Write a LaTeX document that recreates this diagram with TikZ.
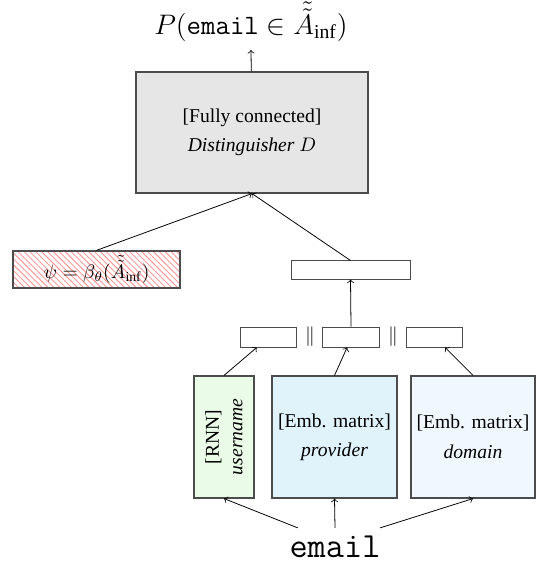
\documentclass[tikz,border=0pt]{standalone}
\usepackage{amsmath,amssymb}
\usepackage{fontspec}
\setmainfont{Liberation Serif}
\usetikzlibrary{patterns}
\definecolor{discgray}{HTML}{E6E6E6}
\definecolor{rnngreen}{HTML}{EAFCE8}
\definecolor{provblue}{HTML}{E0F2FA}
\definecolor{domblue}{HTML}{F0F7FE}

\begin{document}
\begin{tikzpicture}[x=0.51pt,y=-0.51pt,
  box/.style={draw=black!70, rectangle, line width=0.6pt, inner sep=0pt},
  vec/.style={draw=black!70, rectangle, line width=0.5pt, minimum width=28.6pt, minimum height=10.2pt, inner sep=0pt}]
\useasboundingbox (0,0) rectangle (537,563);

% Output probability
\node[inner sep=1pt] (prob) at (251,22) {\fontsize{14.3}{16}\selectfont $P(\texttt{email}\in\tilde{\tilde{A}}_{\text{inf}})$};

% Distinguisher
\node[box, fill=discgray, minimum width=118.3pt, minimum height=61.7pt, align=center] (disc) at (252,132.5) {[Fully connected]\\[3pt]\textit{Distinguisher $D$}};
\draw[->] (disc) -- ([yshift=-3pt]prob.south);

% Attribute encoding
\node[box, pattern=north west lines, pattern color=red!45, minimum width=85.2pt, minimum height=18.9pt] (psi) at (96.5,269.5) {$\psi = \beta_\theta(\tilde{\tilde{A}}_{\text{inf}})$};
\draw[->] (psi.north) -- (disc.south);

% Concatenated vector
\node[vec, minimum width=60.7pt, minimum height=9.2pt] (concat) at (350.5,270) {};
\draw[->] (concat.north) -- (disc.south);

% Part vectors
\node[vec] (vuser) at (268.5,337) {};
\node (sep1) at (310,337) {$\|$};
\node[vec] (vprov) at (351,337) {};
\node (sep2) at (393,337) {$\|$};
\node[vec] (vdom) at (434.5,337) {};
\draw[->] (vprov.north) -- (concat.south);

% Encoders
\node[box, fill=rnngreen, minimum width=30.6pt, minimum height=62.2pt] (rnn) at (224,437) {};
\node[rotate=90, align=center] (rnntxt) at (rnn) {[RNN]\\\textit{username}};
\node[box, fill=provblue, minimum width=63.8pt, minimum height=62.2pt, align=center] (prov) at (334.5,437) {[Emb. matrix]\\[3pt]\textit{provider}};
\node[box, fill=domblue, minimum width=63.2pt, minimum height=62.2pt, align=center] (dom) at (473,437) {[Emb. matrix]\\[3pt]\textit{domain}};
\draw[->] (rnn.north) -- ([xshift=-6pt]vuser.south);
\draw[->] (prov.north) -- ([xshift=-2pt]vprov.south);
\draw[->] (dom.north) -- ([xshift=5.4pt]vdom.south);

% Input
\node[inner sep=1pt] (email) at (335,547) {\fontsize{18}{18}\selectfont\ttfamily email};
\draw[->] ([xshift=-19pt,yshift=3pt]email.north) -- (rnn.south);
\draw[->] ([yshift=3pt]email.north) -- (prov.south);
\draw[->] ([xshift=23pt,yshift=3pt]email.north) -- (dom.south);
\end{tikzpicture}
\end{document}
